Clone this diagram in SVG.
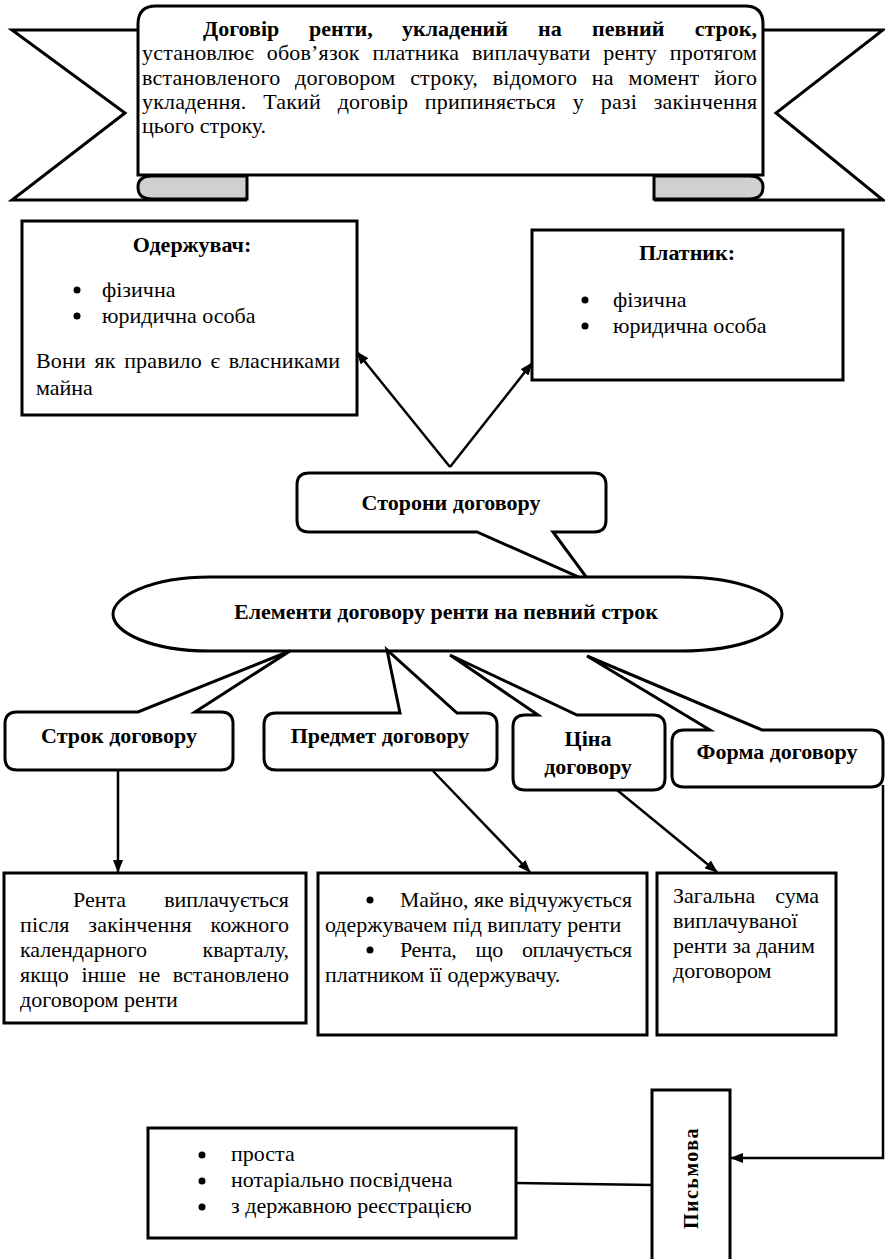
<svg xmlns="http://www.w3.org/2000/svg" width="885" height="1259" viewBox="0 0 885 1259">
<style>
text{font-family:"Liberation Serif","Times New Roman",serif;font-size:22px;fill:#000}
.b{font-weight:bold}
.sh{fill:#fff;stroke:#000;stroke-width:3;stroke-linejoin:miter}
.fold{fill:#d0d0d0;stroke:#000;stroke-width:3}
.ln{fill:none;stroke:#000;stroke-width:2.5}
.arr{fill:none;stroke:#000;stroke-width:2.5;marker-end:url(#ah)}
</style>
<defs>
<marker id="ah" markerUnits="userSpaceOnUse" markerWidth="13" markerHeight="10" refX="12" refY="5" orient="auto">
<path d="M0,0 L13,5 L0,10 Z" fill="#000"/>
</marker>
</defs>
<rect width="885" height="1259" fill="#fff"/>

<g id="banner">
<path class="sh" d="M138,30 L12,30 L125,113 L12,200 L247,200"/>
<path class="sh" d="M763,30 L883,30 L776,113 L883,200 L654,200"/>
<path class="sh" d="M138,175 L138,24 Q138,6 156,6 L745,6 Q763,6 763,24 L763,175 Z"/>
<path class="fold" d="M247,176 L152,176 Q138,176 138,187 Q138,199 152,199 L247,199 Z"/>
<path class="fold" d="M654,176 L749,176 Q763,176 763,187 Q763,199 749,199 L654,199 Z"/>
<text class="b" x="203" y="36">Договір</text>
<text class="b" x="309" y="36">ренти,</text>
<text class="b" x="402" y="36">укладений</text>
<text class="b" x="538" y="36">на</text>
<text class="b" x="592" y="36">певний</text>
<text class="b" x="757" y="36" text-anchor="end">строк,</text>
<text x="142" y="60" textLength="615" lengthAdjust="spacing" style="word-spacing:7px">установлює обов’язок платника виплачувати ренту протягом</text>
<text x="142" y="85" textLength="615" lengthAdjust="spacing" style="word-spacing:9px">встановленого договором строку, відомого на момент його</text>
<text x="142" y="109" textLength="615" lengthAdjust="spacing" style="word-spacing:11px">укладення. Такий договір припиняється у разі закінчення</text>
<text x="142" y="133">цього строку.</text>
</g>

<g id="oderzhuvach">
<rect class="sh" x="22" y="221" width="335" height="194"/>
<text class="b" x="192" y="252" text-anchor="middle">Одержувач:</text>
<circle cx="77" cy="290" r="3.5"/>
<text x="102" y="297">фізична</text>
<circle cx="77" cy="316" r="3.5"/>
<text x="102" y="323">юридична особа</text>
<text x="36" y="368" textLength="304" lengthAdjust="spacing" style="word-spacing:3px">Вони як правило є власниками</text>
<text x="36" y="395">майна</text>
</g>

<g id="platnyk">
<rect class="sh" x="532" y="230" width="311" height="150"/>
<text class="b" x="687" y="260" text-anchor="middle">Платник:</text>
<circle cx="585" cy="300" r="3.5"/>
<text x="613" y="307">фізична</text>
<circle cx="585" cy="326" r="3.5"/>
<text x="613" y="333">юридична особа</text>
</g>

<g id="storony">
<path class="sh" d="M309,473 L594,473 Q606,473 606,485 L606,520 Q606,532 594,532 L553,532 L590,582 L477,532 L309,532 Q297,532 297,520 L297,485 Q297,473 309,473 Z"/>
<text class="b" x="451" y="510" text-anchor="middle">Сторони договору</text>
</g>

<g id="elementy">
<path class="sh" d="M210,577 L680,577 C745,577 782,597 782,614 C782,632 745,651 680,651 L210,651 C150,651 113,632 113,614 C113,597 150,577 210,577 Z"/>
<text class="b" x="446" y="619" text-anchor="middle">Елементи договору ренти на певний строк</text>
</g>

<g id="strok">
<path class="sh" d="M17,712 L138,712 L290,651 L195,712 L221,712 Q233,712 233,724 L233,758 Q233,770 221,770 L17,770 Q5,770 5,758 L5,724 Q5,712 17,712 Z"/>
<text class="b" x="119" y="743" text-anchor="middle">Строк договору</text>
</g>

<g id="predmet">
<path class="sh" d="M276,713 L400,713 L387,650 L457,713 L485,713 Q497,713 497,725 L497,758 Q497,770 485,770 L276,770 Q264,770 264,758 L264,725 Q264,713 276,713 Z"/>
<text class="b" x="380" y="743" text-anchor="middle">Предмет договору</text>
</g>

<g id="tsina">
<path class="sh" d="M525,715 L538,715 L450,655 L577,715 L653,715 Q665,715 665,727 L665,778 Q665,790 653,790 L525,790 Q513,790 513,778 L513,727 Q513,715 525,715 Z"/>
<text class="b" x="588" y="746" text-anchor="middle">Ціна</text>
<text class="b" x="588" y="774" text-anchor="middle">договору</text>
</g>

<g id="forma">
<path class="sh" d="M684,730 L710,730 L587,656 L762,730 L871,730 Q883,730 883,742 L883,775 Q883,787 871,787 L684,787 Q672,787 672,775 L672,742 Q672,730 684,730 Z"/>
<text class="b" x="777" y="759" text-anchor="middle">Форма договору</text>
</g>

<g id="box-strok">
<rect class="sh" x="4" y="873" width="302" height="150"/>
<text x="73" y="907">Рента</text>
<text x="289" y="907" text-anchor="end">виплачується</text>
<text x="20" y="932" textLength="269" lengthAdjust="spacing" style="word-spacing:13px">після закінчення кожного</text>
<text x="20" y="957">календарного</text>
<text x="289" y="957" text-anchor="end">кварталу,</text>
<text x="20" y="982" textLength="269" lengthAdjust="spacing" style="word-spacing:7px">якщо інше не встановлено</text>
<text x="20" y="1007">договором ренти</text>
</g>

<g id="box-predmet">
<rect class="sh" x="318" y="873" width="329" height="162"/>
<circle cx="370" cy="900" r="3.5"/>
<text x="400" y="907" textLength="232" lengthAdjust="spacingAndGlyphs">Майно, яке відчужується</text>
<text x="325" y="932">одержувачем під виплату ренти</text>
<circle cx="370" cy="950" r="3.5"/>
<text x="400" y="957" textLength="232" lengthAdjust="spacing" style="word-spacing:14px">Рента, що оплачується</text>
<text x="325" y="982">платником її одержувачу.</text>
</g>

<g id="box-tsina">
<rect class="sh" x="657" y="873" width="179" height="162"/>
<text x="673" y="903">Загальна</text>
<text x="819" y="903" text-anchor="end">сума</text>
<text x="673" y="928">виплачуваної</text>
<text x="673" y="953">ренти за даним</text>
<text x="673" y="978">договором</text>
</g>

<g id="box-vydy">
<rect class="sh" x="148" y="1128" width="368" height="110"/>
<circle cx="202" cy="1155" r="3.5"/>
<text x="231" y="1161">проста</text>
<circle cx="202" cy="1181" r="3.5"/>
<text x="231" y="1187">нотаріально посвідчена</text>
<circle cx="202" cy="1207" r="3.5"/>
<text x="231" y="1213">з державною реєстрацією</text>
</g>

<g id="pysmova">
<rect class="sh" x="652" y="1090" width="78" height="180"/>
<text class="b" x="0" y="0" transform="translate(698,1178) rotate(-90)" text-anchor="middle" style="font-size:20px;letter-spacing:1.5px">Письмова</text>
</g>

<g id="connectors">
<line class="arr" x1="450" y1="467" x2="357" y2="352"/>
<line class="arr" x1="450" y1="467" x2="532" y2="363"/>
<line class="arr" x1="118" y1="770" x2="118" y2="872"/>
<line class="arr" x1="433" y1="771" x2="530" y2="872"/>
<line class="arr" x1="617" y1="790" x2="717" y2="872"/>
<path class="arr" d="M883,785 L883,1158 L731,1158"/>
<line class="ln" x1="516" y1="1183" x2="652" y2="1185"/>
</g>
</svg>
